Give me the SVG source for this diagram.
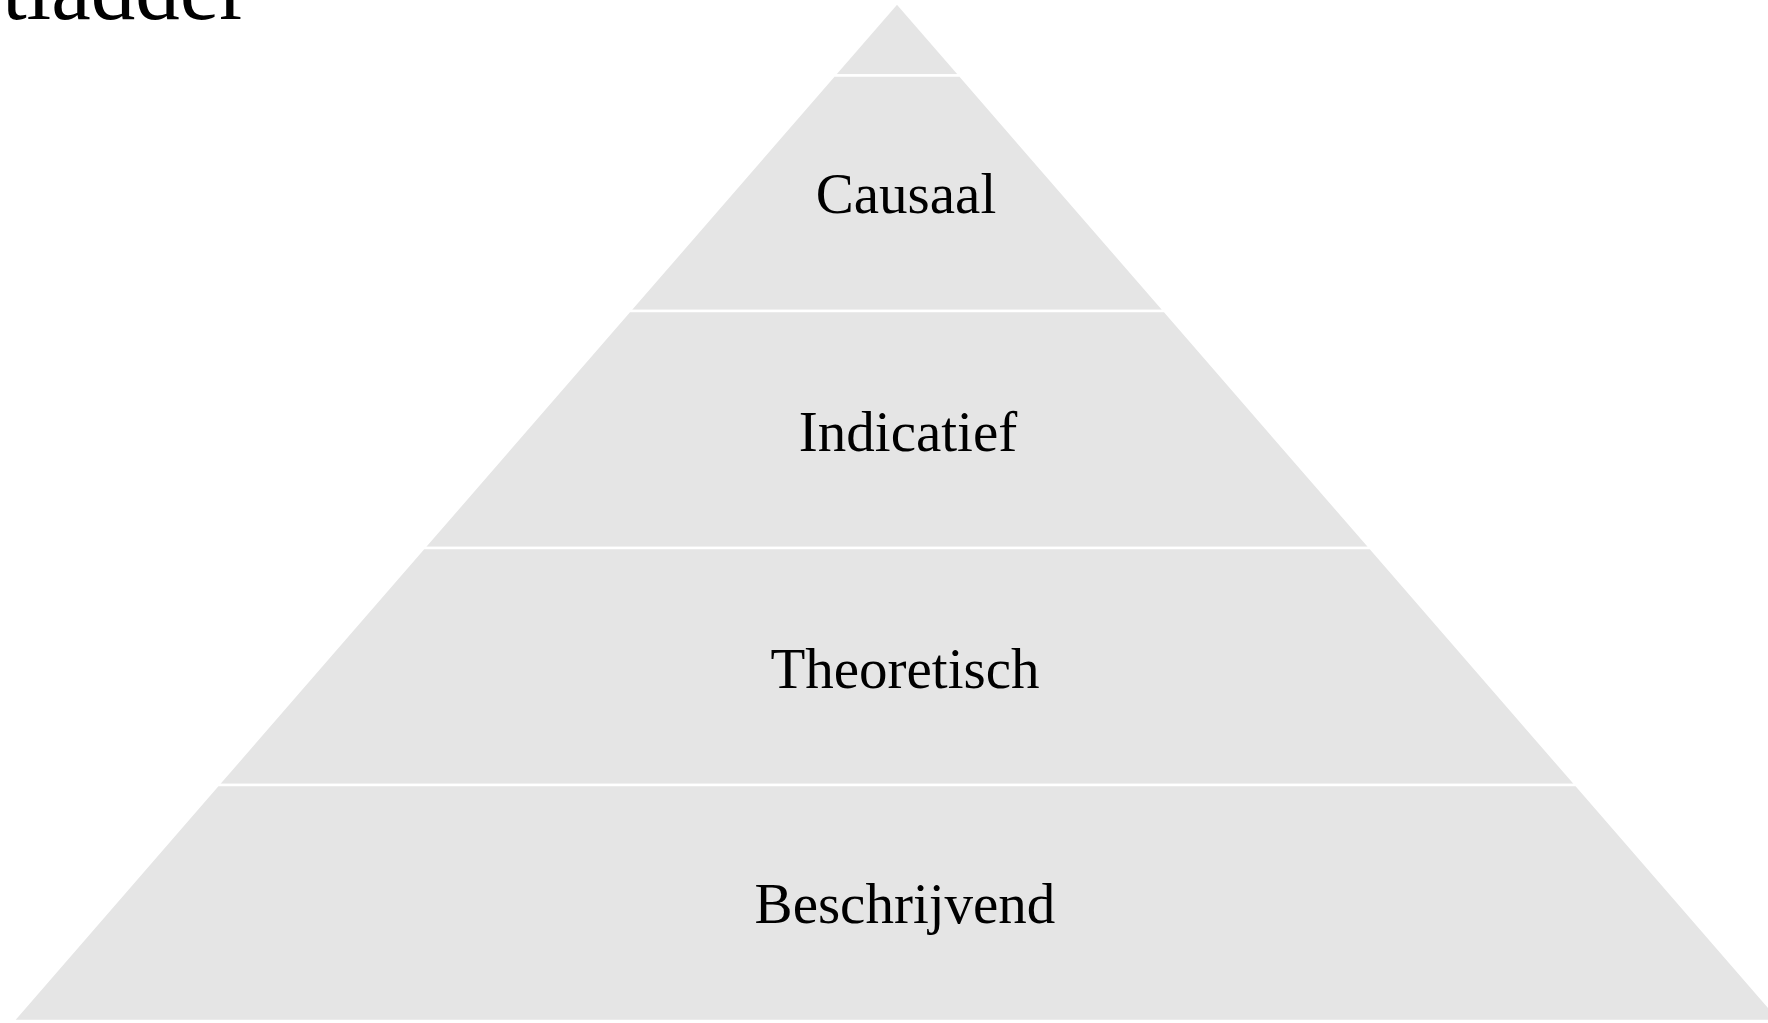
<svg xmlns="http://www.w3.org/2000/svg" width="1768" height="1023" viewBox="0 0 1768 1023">
  <style>
    .band { fill: #e5e5e5; stroke: #ffffff; stroke-width: 2.5; stroke-linejoin: miter; }
    .label { font-family: "Liberation Serif", "Times New Roman", serif; font-size: 57px; fill: #000000; text-anchor: middle; }
    .title { font-family: "Liberation Serif", "Times New Roman", serif; font-size: 89px; fill: #000000; text-anchor: end; }
  </style>
  <rect x="0" y="0" width="1768" height="1023" fill="#ffffff"/>
  <text class="title" x="249" y="19">tladder</text>
  <g id="level-top">
    <polygon class="band" points="897,3 960,75.5 834,75.5"/>
  </g>
  <g id="level-causaal">
    <polygon class="band" points="834,75.5 960,75.5 1164.5,311 629.5,311"/>
    <text class="label" x="906" y="213">Causaal</text>
  </g>
  <g id="level-indicatief">
    <polygon class="band" points="629.5,311 1164.5,311 1370.3,548 423.7,548"/>
    <text class="label" x="908" y="451">Indicatief</text>
  </g>
  <g id="level-theoretisch">
    <polygon class="band" points="423.7,548 1370.3,548 1576.1,785 217.9,785"/>
    <text class="label" x="905" y="688">Theoretisch</text>
  </g>
  <g id="level-beschrijvend">
    <polygon class="band" points="217.9,785 1576.1,785 1781,1021 13,1021"/>
    <text class="label" x="905" y="923">Beschrijvend</text>
  </g>
  <g id="connectors"></g>
</svg>
